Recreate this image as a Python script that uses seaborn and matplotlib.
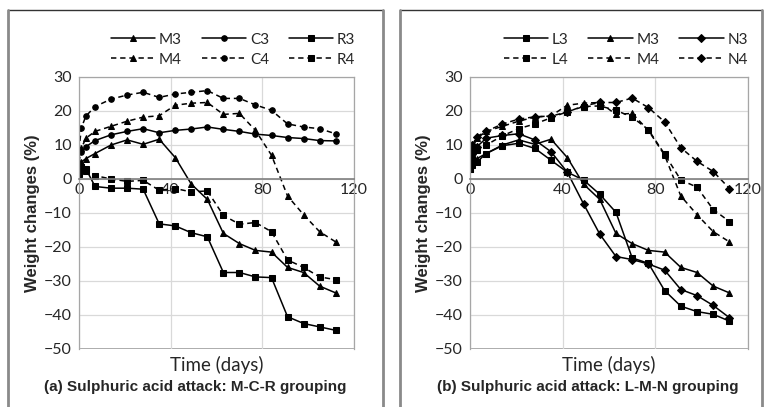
import matplotlib
matplotlib.use("Agg")
import matplotlib.pyplot as plt
from matplotlib.lines import Line2D
import seaborn as sns
import pandas as pd

days = [0, 1, 3, 7, 14, 21, 28, 35, 42, 49, 56, 63, 70, 77, 84, 91, 98, 105, 112]

M3 = [4, 5, 6, 7.5, 10, 11.5, 10.2, 11.7, 6.3, -1.5, -6, -16, -19, -21, -21.5, -26, -27.5, -31.5, -33.5]
C3 = [8.5, 8, 9.5, 11.3, 13, 14, 14.8, 13.6, 14.3, 14.7, 15.3, 14.6, 14, 13.2, 12.8, 12.2, 11.9, 11.3, 11.2]
R3 = [2, 3.5, 3, -2.2, -2.7, -2.7, -3, -13.2, -13.8, -15.8, -17, -27.5, -27.5, -28.8, -29, -40.5, -42.5, -43.5, -44.5]
M4 = [5, 9, 12, 14, 15.5, 17, 18.2, 18.6, 21.7, 22.3, 22.5, 19, 19.3, 14.3, 7, -5, -10.5, -15.5, -18.5]
C4 = [8.5, 15, 18.5, 21.3, 23.5, 24.7, 25.5, 24, 25, 25.5, 26, 23.7, 23.7, 21.8, 20.2, 16.2, 15.3, 14.8, 13.3]
R4 = [1.5, 3, 2.5, 1, 0, -0.7, -0.4, -3.3, -2.8, -3.8, -3.5, -10.7, -13.3, -12.8, -15.5, -23.8, -26, -28.8, -29.6]

L3 = [3, 4, 5, 7.5, 9.8, 10.5, 9, 5.5, 2, -0.3, -4.5, -9.8, -23.2, -24.8, -32.8, -37.4, -39, -39.8, -41.8]
N3 = [5, 7.5, 9.5, 12, 12.8, 13.3, 11.5, 8, 2, -7.3, -16.2, -22.8, -23.7, -25, -26.8, -32.5, -34.3, -37.2, -40.8]
L4 = [3, 6, 8.5, 10, 12.7, 14.8, 16.2, 18, 19.8, 21.3, 21.5, 20.2, 18.2, 14.5, 7.3, -0.3, -2.4, -9, -12.5]
N4 = [7.5, 10, 12.5, 14, 16.2, 17.6, 18.3, 18.5, 19.7, 21.5, 22.5, 22.5, 23.8, 21, 16.8, 9.2, 5.2, 2.2, -2.8]

x_ticks = [0, 40, 80, 120]
y_ticks = [30, 20, 10, 0, -10, -20, -30, -40, -50]

# (name, values, marker, dashed) ; order = legend column order
panel_a = [("M3", M3, "^", False), ("M4", M4, "^", True),
           ("C3", C3, "o", False), ("C4", C4, "o", True),
           ("R3", R3, "s", False), ("R4", R4, "s", True)]
panel_b = [("L3", L3, "s", False), ("L4", L4, "s", True),
           ("M3", M3, "^", False), ("M4", M4, "^", True),
           ("N3", N3, "D", False), ("N4", N4, "D", True)]

sns.set_style("white")
plt.rcParams["font.family"] = ["Lato", "DejaVu Sans"]

W, H = 764, 407
fig = plt.figure(figsize=(W / 100, H / 100), dpi=100)


def px_rect(l, t, r, b):
    return [l / W, 1 - b / H, (r - l) / W, (b - t) / H]


def frame(l, r, t):
    # panel border: dark top, grey sides running off the bottom
    fig.add_artist(Line2D([l / W, r / W], [1 - t / H, 1 - t / H], color="#333333", lw=1.0))
    for xx in (l, r):
        fig.add_artist(Line2D([xx / W, xx / W], [1 - t / H, 0], color="#8a8a8a", lw=2.0))


def draw_panel(rect, series, caption, cap_x):
    ax = fig.add_axes(rect)
    for name, vals, mk, dashed in series:
        df = pd.DataFrame({"day": days, "w": vals})
        sns.lineplot(data=df, x="day", y="w", ax=ax, color="black", lw=1.1,
                     marker=mk, markersize=4.0 if mk != "D" else 3.8,
                     markeredgecolor="black", linestyle=(0, (3.5, 2.5)) if dashed else "-",
                     label=name, legend=False)
    ax.set_xlim(0, 120)
    ax.set_ylim(-50, 30)
    ax.set_xticks(x_ticks)
    ax.set_yticks(y_ticks)
    ax.grid(True, color="#d9d9d9", lw=0.9)
    ax.set_axisbelow(True)
    for s in ("left", "right", "top"):
        ax.spines[s].set_color("#a6a6a6")
        ax.spines[s].set_linewidth(0.9)
    ax.spines["bottom"].set_position(("data", 0))
    ax.spines["bottom"].set_color("#7f7f7f")
    ax.spines["bottom"].set_linewidth(1.2)
    ax.axhline(-50, color="#a6a6a6", lw=1.4, zorder=0.5)
    ax.tick_params(axis="x", direction="inout", length=6, width=0.9, color="#7f7f7f",
                   labelsize=11.5, pad=0)
    ax.tick_params(axis="y", length=0, labelsize=11.5, pad=5)
    ax.set_xlabel("")
    ax.set_ylabel("Weight changes (%)", fontsize=12, fontweight="bold",
                  family="Liberation Sans", labelpad=3)
    ax.text(0.5, -0.025, "Time (days)", transform=ax.transAxes, ha="center", va="top",
            fontsize=13.5)
    fig.text(cap_x / W, 1 - 387 / H, caption, ha="center", va="center",
             fontsize=11, fontweight="bold", family="Liberation Sans")
    h, l = ax.get_legend_handles_labels()
    ax.legend(h, l, ncol=3, frameon=False, loc="lower center",
              bbox_to_anchor=(0.56, 1.01), fontsize=11, handlelength=2.9,
              columnspacing=1.3, labelspacing=0.4, handletextpad=0.25, borderpad=0)
    return ax


frame(8, 383, 10)
frame(400, 762, 10)

draw_panel(px_rect(79, 77, 354, 349), panel_a,
           "(a) Sulphuric acid attack: M-C-R grouping", 195)
draw_panel(px_rect(470, 77, 748, 349), panel_b,
           "(b) Sulphuric acid attack: L-M-N grouping", 588)

fig.savefig("out.png", dpi=100)
